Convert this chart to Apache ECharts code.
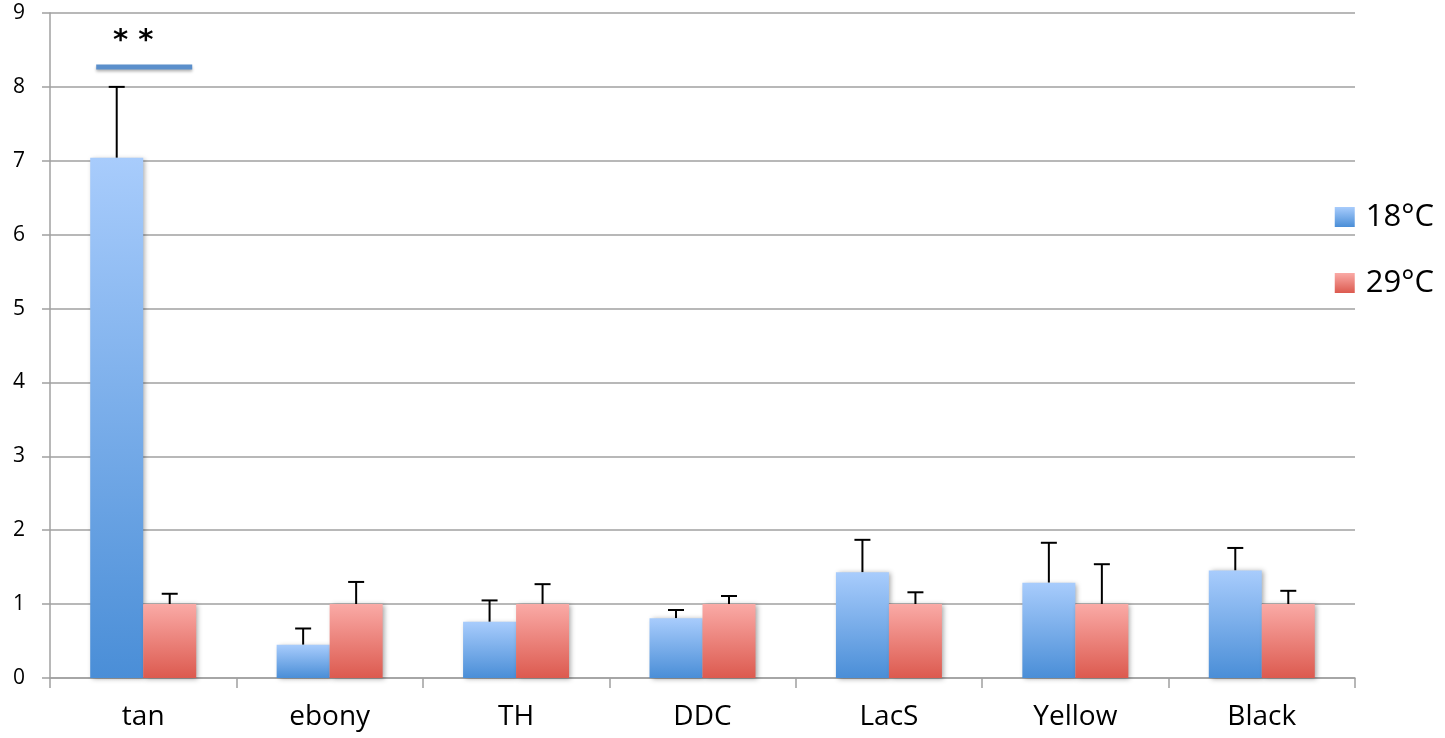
<!DOCTYPE html>
<html>
<head>
<meta charset="utf-8">
<script src="https://cdn.jsdelivr.net/npm/echarts@6/dist/echarts.min.js"></script>
<style>html,body{margin:0;padding:0;background:#fff;}#c{width:1445px;height:738px;}</style>
</head>
<body>
<div id="c"></div>
<script>
var categories = ['tan', 'ebony', 'TH', 'DDC', 'LacS', 'Yellow', 'Black'];
var seriesNames = ['18°C', '29°C'];
var values18 = [7.04, 0.45, 0.76, 0.81, 1.43, 1.29, 1.455];
var errTop18 = [8.0, 0.67, 1.05, 0.92, 1.87, 1.83, 1.76];
var values29 = [1, 1, 1, 1, 1, 1, 1];
var errTop29 = [1.14, 1.30, 1.27, 1.11, 1.16, 1.54, 1.18];
var yTicks = [0, 1, 2, 3, 4, 5, 6, 7, 8, 9];
var sigMarks = [['tan', 8.27, 8.61, '* *']];

var BAR_W = 53;
function grad(top, bottom) {
  return new echarts.graphic.LinearGradient(0, 0, 0, 1, [
    {offset: 0, color: top}, {offset: 1, color: bottom}
  ]);
}
var blue = grad('#a8ccfc', '#4a8ed7');
var red = grad('#faaaa6', '#dc5a4f');

function errData(vals, tops) {
  return categories.map(function (c, i) { return [i, vals[i], tops[i]]; });
}
function errRender(offsetDir) {
  return function (params, api) {
    var i = api.value(0);
    var base = api.coord([i, api.value(1)]);
    var top = api.coord([i, api.value(2)]);
    var x = base[0] + offsetDir * BAR_W / 2;
    return {
      type: 'group',
      children: [
        {type: 'line', shape: {x1: x, y1: base[1], x2: x, y2: top[1]}, style: {stroke: '#000', lineWidth: 2}},
        {type: 'line', shape: {x1: x - 8, y1: top[1], x2: x + 8, y2: top[1]}, style: {stroke: '#000', lineWidth: 2}}
      ]
    };
  };
}

var chart = echarts.init(document.getElementById('c'));
chart.setOption({
  animation: false,
  backgroundColor: '#fff',
  grid: {left: 50, right: 90, top: 13, bottom: 60, containLabel: false},
  legend: {
    orient: 'vertical',
    right: 6,
    top: 196,
    icon: 'rect',
    itemWidth: 20,
    itemHeight: 20,
    itemGap: 34,
    data: seriesNames,
    textStyle: {fontFamily: 'Open Sans', fontSize: 31, lineHeight: 32, color: '#000', padding: [0, 0, 0, 6]}
  },
  xAxis: {
    type: 'category',
    data: categories,
    axisLine: {lineStyle: {color: '#a0a0a0', width: 1.5}},
    axisTick: {show: true, length: 10, lineStyle: {color: '#a0a0a0', width: 1.5}},
    axisLabel: {fontFamily: 'Open Sans', fontSize: 28, color: '#000', margin: 25}
  },
  yAxis: {
    type: 'value',
    min: 0, max: 9, interval: 1,
    axisLine: {show: true, lineStyle: {color: '#a0a0a0', width: 1.5}},
    axisTick: {show: true, length: 8, lineStyle: {color: '#a0a0a0', width: 1.5}},
    splitLine: {show: true, lineStyle: {color: '#a0a0a0', width: 1.5}},
    axisLabel: {fontFamily: 'Open Sans', fontSize: 21, color: '#000', margin: 25,
      formatter: function (v) { return yTicks.indexOf(v) >= 0 ? String(v) : ''; }}
  },
  series: [
    {
      name: seriesNames[0], type: 'bar', data: values18, barWidth: BAR_W, barGap: '0%',
      itemStyle: {color: blue, shadowColor: 'rgba(0,0,0,0.35)', shadowBlur: 5, shadowOffsetX: 2, shadowOffsetY: 1},
      z: 3
    },
    {
      name: seriesNames[1], type: 'bar', data: values29, barWidth: BAR_W, barGap: '0%',
      itemStyle: {color: red, shadowColor: 'rgba(0,0,0,0.35)', shadowBlur: 5, shadowOffsetX: 2, shadowOffsetY: 1},
      z: 3
    },
    {
      type: 'custom', name: 'err18', data: errData(values18, errTop18),
      renderItem: errRender(-1), z: 2, silent: true
    },
    {
      type: 'custom', name: 'err29', data: errData(values29, errTop29),
      renderItem: errRender(1), z: 2, silent: true
    },
    {
      type: 'custom', name: 'sig',
      data: sigMarks.map(function (s) { return [categories.indexOf(s[0]), s[1], s[2]]; }),
      renderItem: function (params, api) {
        var i = api.value(0);
        var p = api.coord([i, api.value(1)]);
        var t = api.coord([i, api.value(2)]);
        return {
          type: 'group',
          children: [
            {type: 'line', shape: {x1: p[0] - 47, y1: p[1], x2: p[0] + 49, y2: p[1]},
              style: {stroke: '#5b8fcb', lineWidth: 5, shadowColor: 'rgba(0,0,0,0.3)', shadowBlur: 3, shadowOffsetY: 2}},
            {type: 'text', x: t[0] - 10, y: t[1],
              style: {text: sigMarks[params.dataIndex][3], fontFamily: 'DejaVu Sans', fontSize: 29, fontWeight: 'bold', fill: '#000', align: 'center', verticalAlign: 'middle'}}
          ]
        };
      },
      z: 4, silent: true
    }
  ]
});
</script>
</body>
</html>
